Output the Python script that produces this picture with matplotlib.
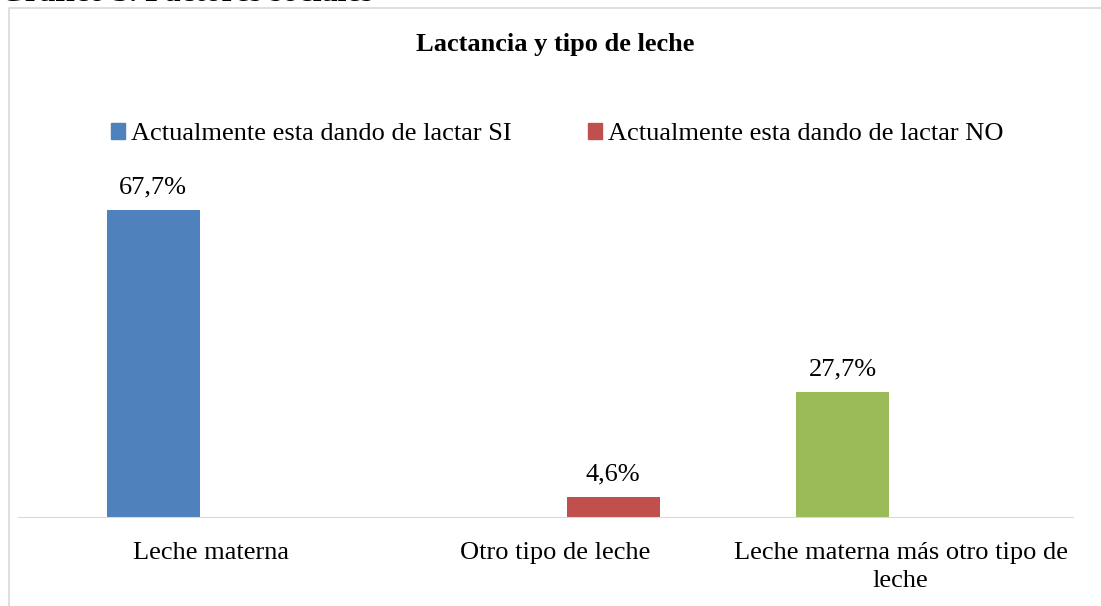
import matplotlib.pyplot as plt
from matplotlib.patches import Rectangle

categories = ["Leche materna", "Otro tipo de leche", "Leche materna más otro tipo de\nleche"]
series_names = ["Actualmente esta dando de lactar SI", "Actualmente esta dando de lactar NO"]
# one bar per category; slot 0 = SI, slot 1 = NO
values = [67.7, 4.6, 27.7]
slots = [0, 1, 0]
bar_colors = ["#4f81bd", "#c0504d", "#9bbb59"]
value_labels = ["67,7%", "4,6%", "27,7%"]

plt.rcParams['font.family'] = ['Liberation Serif', 'DejaVu Serif']

W, H = 1101, 606
fig = plt.figure(figsize=(W / 100, H / 100), dpi=100)

# chart frame (cut off on the right and bottom)
fig.patches.append(Rectangle((9 / W, -0.1), 1.2, 1 - 8 / H + 0.1, transform=fig.transFigure,
                             fill=False, edgecolor="#d9d9d9", linewidth=1.2))

# heading of the page, mostly cut off at the top
fig.text(0, 1 - 1 / H, "Gráfico 3. Factores sociales", fontsize=23, fontweight="bold",
         ha="left", va="baseline")

ax_left, ax_right = 18, 1074
ax_top, ax_bottom = 154, 518
ax = fig.add_axes([ax_left / W, 1 - ax_bottom / H, (ax_right - ax_left) / W, (ax_bottom - ax_top) / H])

unit = 345.0
bar_w = 93 / unit
offset = 57.5 / unit
x0 = 210.5
ax.set_xlim((ax_left - x0) / unit, (ax_right - x0) / unit)
ax.set_ylim(0, 80)

for i, (v, s, c, lab) in enumerate(zip(values, slots, bar_colors, value_labels)):
    x = i + (-offset if s == 0 else offset)
    ax.bar(x, v, width=bar_w, color=c)
    ax.text(x, v + 2.6, lab, ha="center", va="bottom", fontsize=19)

ax.axhline(0, color="#d9d9d9", linewidth=1.5)
for sp in ax.spines.values():
    sp.set_visible(False)
ax.set_yticks([])
ax.set_xticks(range(len(categories)))
ax.set_xticklabels(categories, fontsize=19, linespacing=1.35)
ax.tick_params(axis="x", length=0, pad=17)

fig.text(555 / W, 1 - 45 / H, "Lactancia y tipo de leche", fontsize=19, fontweight="bold",
         ha="center", va="center")

handles = [Rectangle((0, 0), 1, 1, color=bar_colors[0]), Rectangle((0, 0), 1, 1, color=bar_colors[1])]
fig.legend(handles, series_names, loc="center", bbox_to_anchor=(557 / W, 1 - 134 / H), ncol=2,
           frameon=False, fontsize=19, handlelength=0.55, handleheight=0.55, handletextpad=0.2,
           columnspacing=2.9, borderpad=0, borderaxespad=0)

fig.savefig("out.png", dpi=100)
